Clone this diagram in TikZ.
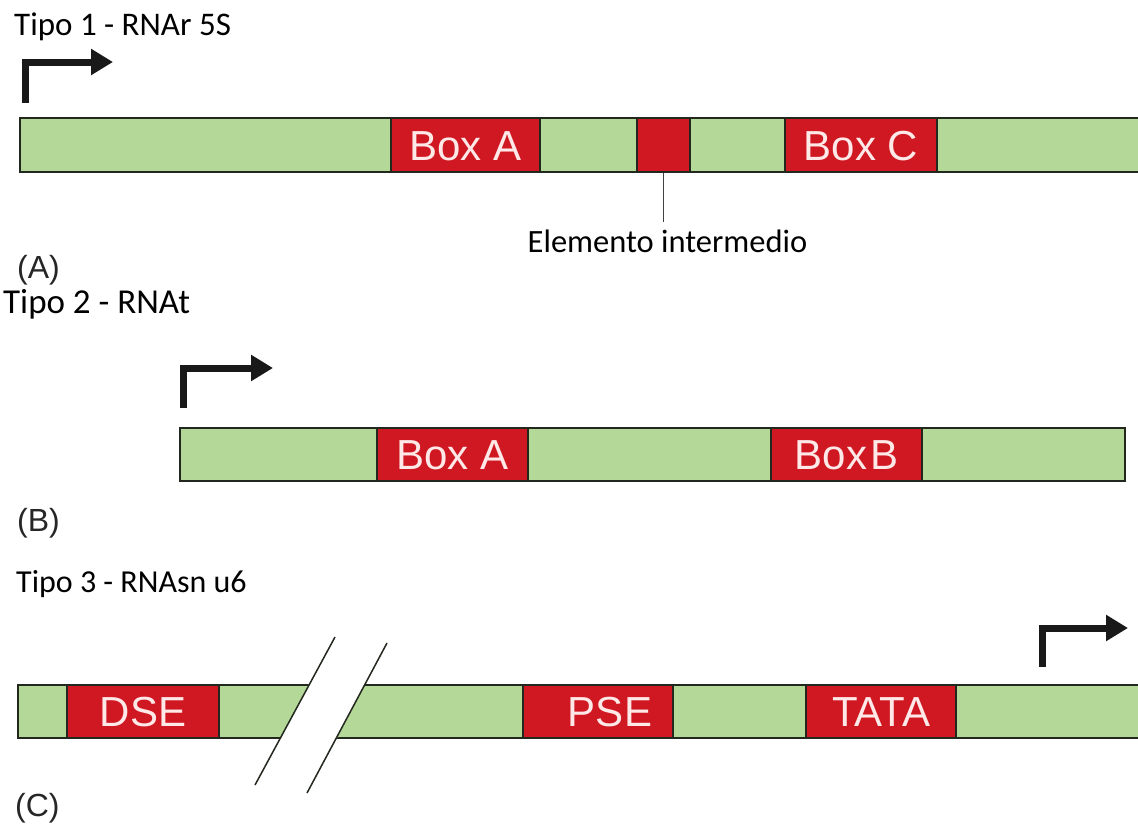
\documentclass[tikz,border=0pt]{standalone}
\usepackage{fontspec}
\newfontfamily\carl{Carlito}
\newfontfamily\arl{Liberation Sans}
\usetikzlibrary{arrows.meta}
\definecolor{dnagreen}{RGB}{180,216,152}
\definecolor{boxred}{RGB}{208,24,34}
\definecolor{edgec}{RGB}{35,40,30}
\definecolor{boxtxt}{RGB}{255,232,232}
\begin{document}
\begin{tikzpicture}[x=1pt,y=-1pt,
 bar/.style={fill=dnagreen,draw=edgec,line width=1.6pt},
 redbox/.style={fill=boxred,draw=edgec,line width=1.6pt,text=boxtxt,font=\arl\fontsize{42}{42}\selectfont,minimum height=54pt,inner sep=0pt,text height=30.1pt,text depth=0pt},
 title/.style={font=\carl\fontsize{33}{38}\selectfont,anchor=base west,inner sep=0pt,text=black},
 panel/.style={font=\arl\fontsize{32}{36}\selectfont,anchor=base west,inner sep=0pt,text=black!85},
 tss/.style={line width=7pt,-{Triangle[length=22pt,width=25pt]},black!90},
 slash/.style={line width=1.5pt,edgec}
]
\useasboundingbox (0,0) rectangle (1138,828);

% ---------- Tipo 1
\node[title] (t1) at (14,35) {Tipo 1 - RNAr 5S};
\coordinate (pA0) at (25,103);
\coordinate (pA1) at (25,62);
\coordinate (pA2) at (113,62);
\draw[tss] (pA0) -- (pA1) -- (pA2);
\draw[bar] (20,118) rectangle (1142,172);
\node[redbox,minimum width=149pt] (a1) at (465.5,145) {Box A};
\node[redbox,minimum width=53pt] (a2) at (663.5,145) {};
\node[redbox,minimum width=152pt] (a3) at (861,145) {Box C};
\node[font=\carl\fontsize{32.5}{38}\selectfont,anchor=base,inner sep=0pt,text=black] (elem) at (667.5,252) {Elemento intermedio};
\coordinate (elemtop) at (663.5,222);
\draw[line width=1.5pt,black!75] (a2.south) -- (elemtop);
\node[panel] (lA) at (17,278) {(A)};

% ---------- Tipo 2
\node[title,font=\carl\fontsize{35}{40}\selectfont] (t2) at (3,313) {Tipo 2 - RNAt};
\coordinate (pB0) at (183,408);
\coordinate (pB1) at (183,368);
\coordinate (pB2) at (273,368);
\draw[tss] (pB0) -- (pB1) -- (pB2);
\draw[bar] (180,428) rectangle (1125,481);
\node[redbox,minimum width=151pt,minimum height=53pt] (b1) at (452.5,454.5) {Box A};
\node[redbox,minimum width=151pt,minimum height=53pt] (b2) at (846.5,454.5) {Box\hspace{3pt}B};
\node[panel] (lB) at (17,531) {(B)};

% ---------- Tipo 3
\node[title,font=\carl\fontsize{32}{38}\selectfont] (t3) at (16,592) {Tipo 3 - RNAsn u6};
\coordinate (pC0) at (1042,667);
\coordinate (pC1) at (1042,628);
\coordinate (pC2) at (1128,628);
\draw[tss] (pC0) -- (pC1) -- (pC2);
\draw[bar] (18,685) rectangle (1142,738);
\node[redbox,minimum width=152pt,minimum height=53pt] (c1) at (143,711.5) {DSE};
\node[redbox,minimum width=150pt,minimum height=53pt] (c2) at (598,711.5) {\hspace*{24pt}PSE};
\node[redbox,minimum width=150pt,minimum height=53pt] (c3) at (881,711.5) {TATA};
% break in the sequence
\fill[white] (309.5,683) -- (365.5,683) -- (336,740) -- (280,740) -- cycle;
\coordinate (s1a) at (255,785);
\coordinate (s1b) at (335,637);
\coordinate (s2a) at (307,793);
\coordinate (s2b) at (387,643);
\draw[slash] (s1a) -- (s1b);
\draw[slash] (s2a) -- (s2b);
\node[panel] (lC) at (15,816) {(C)};
\end{tikzpicture}
\end{document}
